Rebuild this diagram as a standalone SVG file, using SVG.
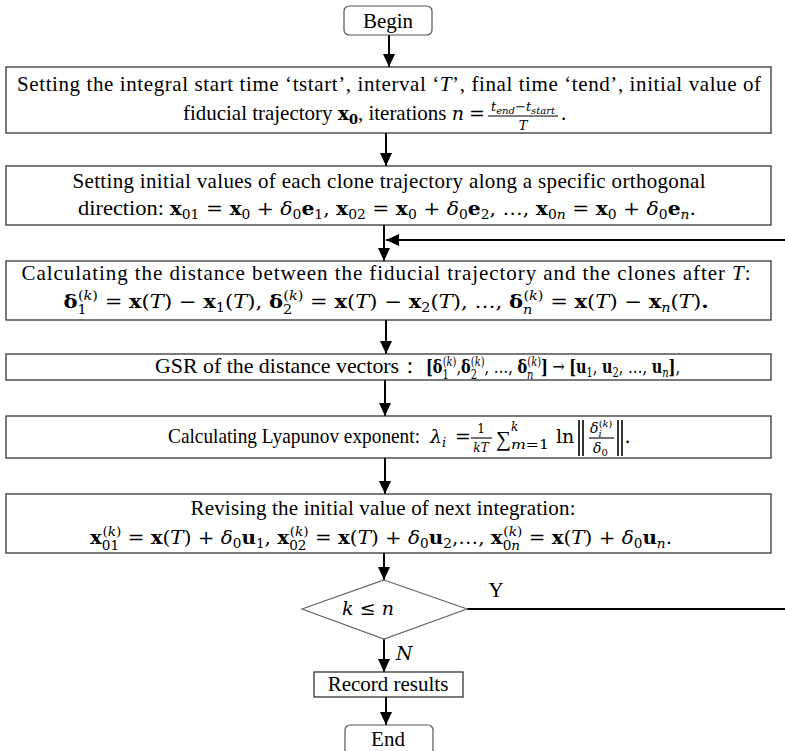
<svg xmlns="http://www.w3.org/2000/svg" width="785" height="751" viewBox="0 0 785 751">
<defs>
<style>
text{font-family:"Liberation Serif","Times New Roman",serif;font-size:21px;fill:#000}
.m{font-family:"DejaVu Serif","Liberation Serif",serif;font-size:19px}
.box{fill:#fff;stroke:#333;stroke-width:1.3}
.term{fill:#fff;stroke:#555;stroke-width:1.2}
.dia{fill:#fff;stroke:#666;stroke-width:1.2}
.c{stroke:#000;stroke-width:2;fill:none}
.bar{stroke:#000;stroke-width:1.1}
.nb{stroke:#000;stroke-width:1.6}
.i{font-style:italic}
.b{font-weight:bold}
.s{font-size:13px}
.f{font-size:13px}
.ss{font-size:10px}
.t12{font-size:12px}
.t14{font-size:14px}
</style>
<marker id="ah" markerUnits="userSpaceOnUse" markerWidth="13" markerHeight="12" refX="13" refY="6" orient="auto">
<path d="M0,0 L13,6 L0,12 z" fill="#000"/>
</marker>
</defs>
<rect width="785" height="751" fill="#fff"/>

<g id="connectors">
<line class="c" x1="389" y1="35" x2="389" y2="67" marker-end="url(#ah)"/>
<line class="c" x1="386" y1="133" x2="386" y2="166" marker-end="url(#ah)"/>
<line class="c" x1="384" y1="225" x2="384" y2="261" marker-end="url(#ah)"/>
<line class="c" x1="785" y1="240" x2="386" y2="240" marker-end="url(#ah)"/>
<line class="c" x1="386" y1="320" x2="386" y2="354" marker-end="url(#ah)"/>
<line class="c" x1="385" y1="380" x2="385" y2="416" marker-end="url(#ah)"/>
<line class="c" x1="385" y1="458" x2="385" y2="494" marker-end="url(#ah)"/>
<line class="c" x1="384" y1="553" x2="384" y2="580" marker-end="url(#ah)"/>
<line class="c" x1="467" y1="609" x2="785" y2="609"/>
<line class="c" x1="384" y1="639" x2="384" y2="672" marker-end="url(#ah)"/>
<line class="c" x1="386" y1="697" x2="386" y2="725" marker-end="url(#ah)"/>
<text x="496" y="597" text-anchor="middle" font-size="20">Y</text>
<text x="396" y="660" class="m i">N</text>
</g>

<g id="begin">
<rect class="term" x="344" y="6" width="88" height="29" rx="5"/>
<text x="388" y="28" text-anchor="middle" font-size="22">Begin</text>
</g>

<g id="setup">
<rect class="box" x="6" y="67" width="765" height="66"/>
<text x="389" y="91" text-anchor="middle" textLength="744" lengthAdjust="spacing">Setting the integral start time ‘tstart’, interval ‘<tspan class="i">T</tspan>’, final time ‘tend’, initial value of</text>
<text x="183" y="120" textLength="302" lengthAdjust="spacing">fiducial trajectory <tspan class="m b">x</tspan><tspan class="m b s" baseline-shift="-4">0</tspan>, iterations <tspan class="m i">n</tspan> <tspan class="m">=</tspan> </text>
<text x="523" y="111" text-anchor="middle" class="m i f"><tspan>t</tspan><tspan class="ss" baseline-shift="-3">end</tspan><tspan font-style="normal">−</tspan>t<tspan class="ss" baseline-shift="-3">start</tspan></text>
<line class="bar" x1="488" y1="116" x2="558" y2="116"/>
<text x="523" y="130" text-anchor="middle" class="m i f">T</text>
<text x="561" y="120">.</text>
</g>

<g id="clones">
<rect class="box" x="6" y="166" width="765" height="59"/>
<text x="389" y="188" text-anchor="middle" textLength="633" lengthAdjust="spacing">Setting initial values of each clone trajectory along a specific orthogonal</text>
<text x="387" y="215" text-anchor="middle" textLength="618" lengthAdjust="spacingAndGlyphs">direction: <tspan class="m"><tspan class="b">x</tspan><tspan class="s" baseline-shift="-4">01</tspan> = <tspan class="b">x</tspan><tspan class="s" baseline-shift="-4">0</tspan> + <tspan class="i">δ</tspan><tspan class="s" baseline-shift="-4">0</tspan><tspan class="b">e</tspan><tspan class="s" baseline-shift="-4">1</tspan>, <tspan class="b">x</tspan><tspan class="s" baseline-shift="-4">02</tspan> = <tspan class="b">x</tspan><tspan class="s" baseline-shift="-4">0</tspan> + <tspan class="i">δ</tspan><tspan class="s" baseline-shift="-4">0</tspan><tspan class="b">e</tspan><tspan class="s" baseline-shift="-4">2</tspan>, …, <tspan class="b">x</tspan><tspan class="s" baseline-shift="-4">0<tspan class="i">n</tspan></tspan> = <tspan class="b">x</tspan><tspan class="s" baseline-shift="-4">0</tspan> + <tspan class="i">δ</tspan><tspan class="s" baseline-shift="-4">0</tspan><tspan class="b">e</tspan><tspan class="s i" baseline-shift="-4">n</tspan>.</tspan></text>
</g>

<g id="distance">
<rect class="box" x="6" y="261" width="765" height="59"/>
<text x="386" y="280" text-anchor="middle" textLength="729" lengthAdjust="spacing">Calculating the distance between the fiducial trajectory and the clones after <tspan class="i">T</tspan>:</text>
<text x="386" y="308" text-anchor="middle" textLength="645" lengthAdjust="spacingAndGlyphs" class="m"><tspan class="b">δ</tspan><tspan class="s" baseline-shift="-6">1</tspan><tspan class="s" dx="-8" baseline-shift="8">(<tspan class="i">k</tspan>)</tspan> = <tspan class="b">x</tspan>(<tspan class="i">T</tspan>) − <tspan class="b">x</tspan><tspan class="s" baseline-shift="-4">1</tspan>(<tspan class="i">T</tspan>), <tspan class="b">δ</tspan><tspan class="s" baseline-shift="-6">2</tspan><tspan class="s" dx="-8" baseline-shift="8">(<tspan class="i">k</tspan>)</tspan> = <tspan class="b">x</tspan>(<tspan class="i">T</tspan>) − <tspan class="b">x</tspan><tspan class="s" baseline-shift="-4">2</tspan>(<tspan class="i">T</tspan>), …, <tspan class="b">δ</tspan><tspan class="s i" baseline-shift="-6">n</tspan><tspan class="s" dx="-8" baseline-shift="8">(<tspan class="i">k</tspan>)</tspan> = <tspan class="b">x</tspan>(<tspan class="i">T</tspan>) − <tspan class="b">x</tspan><tspan class="s i" baseline-shift="-4">n</tspan>(<tspan class="i">T</tspan>)<tspan class="b">.</tspan></text>
</g>

<g id="gsr">
<rect class="box" x="6" y="354" width="765" height="26"/>
<text x="155" y="373" textLength="266" lengthAdjust="spacingAndGlyphs">GSR of the distance vectors：</text>
<text x="426" y="373" textLength="254" lengthAdjust="spacingAndGlyphs" class="m"><tspan class="b">[δ</tspan><tspan class="s" baseline-shift="-6">1</tspan><tspan class="s" dx="-8" baseline-shift="7">(<tspan class="i">k</tspan>)</tspan>,<tspan class="b">δ</tspan><tspan class="s" baseline-shift="-6">2</tspan><tspan class="s" dx="-8" baseline-shift="7">(<tspan class="i">k</tspan>)</tspan>, …, <tspan class="b">δ</tspan><tspan class="s i" baseline-shift="-6">n</tspan><tspan class="s" dx="-8" baseline-shift="7">(<tspan class="i">k</tspan>)</tspan><tspan class="b">]</tspan> → <tspan class="b">[u</tspan><tspan class="s" baseline-shift="-4">1</tspan>, <tspan class="b">u</tspan><tspan class="s" baseline-shift="-4">2</tspan>, …, <tspan class="b">u</tspan><tspan class="s i" baseline-shift="-4">n</tspan><tspan class="b">]</tspan>,</text>
</g>

<g id="lyapunov">
<rect class="box" x="6" y="416" width="765" height="42"/>
<text x="168" y="443" textLength="252" lengthAdjust="spacingAndGlyphs">Calculating Lyapunov exponent:</text>
<text x="430" y="443" class="m"><tspan class="i">λ</tspan><tspan class="s i" baseline-shift="-4">i</tspan></text>
<text x="455" y="443" class="m">=</text>
<text x="481" y="433" text-anchor="middle" class="m t12">1</text>
<line class="bar" x1="471" y1="438" x2="492" y2="438"/>
<text x="481" y="452" text-anchor="middle" class="m i t12">kT</text>
<text x="496" y="446" font-size="22">∑</text>
<text x="511" y="431" class="m i t12">k</text>
<text x="511" y="449" class="m t12" textLength="38" lengthAdjust="spacingAndGlyphs"><tspan class="i">m</tspan>=1</text>
<text x="556" y="443" class="m">ln</text>
<line class="nb" x1="579" y1="420" x2="579" y2="456"/>
<line class="nb" x1="583" y1="420" x2="583" y2="456"/>
<text x="590" y="433" class="m i t14">δ<tspan class="ss" baseline-shift="-4">i</tspan><tspan class="ss" font-style="normal" dx="-3" baseline-shift="6">(<tspan font-style="italic">k</tspan>)</tspan></text>
<line class="bar" x1="589" y1="438" x2="614" y2="438"/>
<text x="593" y="453" class="m i t14">δ<tspan class="ss" font-style="normal" baseline-shift="-3">0</tspan></text>
<line class="nb" x1="618" y1="420" x2="618" y2="456"/>
<line class="nb" x1="622" y1="420" x2="622" y2="456"/>
<text x="625" y="443">.</text>
</g>

<g id="revise">
<rect class="box" x="6" y="494" width="765" height="59"/>
<text x="383" y="515" text-anchor="middle" textLength="385" lengthAdjust="spacing">Revising the initial value of next integration:</text>
<text x="381" y="544" text-anchor="middle" textLength="582" lengthAdjust="spacingAndGlyphs" class="m"><tspan class="b">x</tspan><tspan class="s" baseline-shift="-6">01</tspan><tspan class="s" dx="-16" baseline-shift="8">(<tspan class="i">k</tspan>)</tspan> = <tspan class="b">x</tspan>(<tspan class="i">T</tspan>) + <tspan class="i">δ</tspan><tspan class="s" baseline-shift="-4">0</tspan><tspan class="b">u</tspan><tspan class="s" baseline-shift="-4">1</tspan>, <tspan class="b">x</tspan><tspan class="s" baseline-shift="-6">02</tspan><tspan class="s" dx="-16" baseline-shift="8">(<tspan class="i">k</tspan>)</tspan> = <tspan class="b">x</tspan>(<tspan class="i">T</tspan>) + <tspan class="i">δ</tspan><tspan class="s" baseline-shift="-4">0</tspan><tspan class="b">u</tspan><tspan class="s" baseline-shift="-4">2</tspan>,…, <tspan class="b">x</tspan><tspan class="s" baseline-shift="-6">0<tspan class="i">n</tspan></tspan><tspan class="s" dx="-16" baseline-shift="8">(<tspan class="i">k</tspan>)</tspan> = <tspan class="b">x</tspan>(<tspan class="i">T</tspan>) + <tspan class="i">δ</tspan><tspan class="s" baseline-shift="-4">0</tspan><tspan class="b">u</tspan><tspan class="s i" baseline-shift="-4">n</tspan>.</text>
</g>

<g id="decision">
<polygon class="dia" points="384,580 467,609 384,639 302,609"/>
<text x="368" y="615" text-anchor="middle" class="m"><tspan class="i">k</tspan> ≤ <tspan class="i">n</tspan></text>
</g>

<g id="record">
<rect class="box" x="314" y="672" width="149" height="25"/>
<text x="388" y="691" text-anchor="middle">Record results</text>
</g>

<g id="end">
<rect class="term" x="345" y="725" width="88" height="32" rx="5"/>
<text x="388" y="746" text-anchor="middle" font-size="22">End</text>
</g>
</svg>
